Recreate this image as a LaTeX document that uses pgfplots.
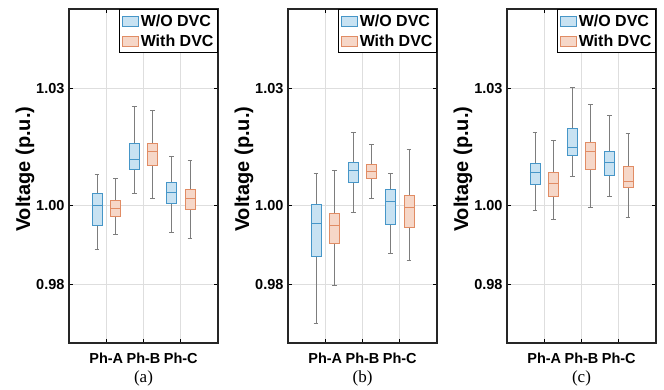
\documentclass[border=0pt]{standalone}
\usepackage{fontspec}
\setmainfont{Liberation Sans}
\newfontfamily\serif{Liberation Serif}
\usepackage{pgfplots}
\pgfplotsset{compat=1.18}
\definecolor{bedge}{RGB}{70,150,200}
\definecolor{bfill}{RGB}{200,226,242}
\definecolor{oedge}{RGB}{225,140,100}
\definecolor{ofill}{RGB}{246,215,200}
\definecolor{wgray}{RGB}{125,125,125}
\definecolor{gridc}{RGB}{222,222,222}
\pgfplotsset{legend image code/.code={\draw[#1] (0pt,-5pt) rectangle (16pt,5pt);}}
\pgfplotsset{
  myax/.style={
    scale only axis, width=149pt, height=334pt,
    xmin=0, xmax=4, ymin=0.965, ymax=1.0502,
    xtick={1,2,3}, xticklabels={Ph-A,Ph-B,Ph-C},
    ytick={0.98,1.00,1.03},
    xtick pos=both, ytick pos=both, tick align=inside,
    major tick length=4pt,
    tick style={black, line width=0.9pt},
    axis line style={black!85, line width=1.3pt},
    grid=major, major grid style={draw=gridc, line width=0.8pt},
    /pgf/number format/assume math mode=true,
    y tick label style={/pgf/number format/fixed, /pgf/number format/fixed zerofill, /pgf/number format/precision=2},
    tick label style={font=\fontsize{14.5}{16}\selectfont\bfseries},
    yticklabel style={xshift=-1pt},
    xticklabel style={yshift=-6pt},
    ylabel={Voltage (p.u.)},
    ylabel style={font=\fontsize{20}{24}\selectfont\bfseries, at={(axis description cs:-0.295,0.52)}, anchor=center},
    xlabel style={font=\serif\fontsize{17}{20}\selectfont, at={(axis description cs:0.5,0)}, anchor=center, yshift=-35pt},
    legend style={at={(1,1)}, anchor=north east, draw=black, line width=1pt, fill=white,
      font=\fontsize{16}{19}\selectfont\bfseries, inner xsep=2pt, inner ysep=3pt, row sep=3pt,
      /tikz/every odd column/.style={column sep=0pt}},
    legend cell align=left,
  }
}
\newcommand{\bx}[8]{%
 \pgfmathsetmacro{\bxl}{#1-0.135}\pgfmathsetmacro{\bxr}{#1+0.135}%
 \pgfmathsetmacro{\bcl}{#1-0.065}\pgfmathsetmacro{\bcr}{#1+0.065}%
 \addplot[forget plot, wgray, line width=0.7pt] coordinates {(#1,#2) (#1,#3)};
 \addplot[forget plot, wgray, line width=0.7pt] coordinates {(#1,#5) (#1,#6)};
 \addplot[forget plot, wgray, line width=0.7pt] coordinates {(\bcl,#2) (\bcr,#2)};
 \addplot[forget plot, wgray, line width=0.7pt] coordinates {(\bcl,#6) (\bcr,#6)};
 \addplot[forget plot, draw=#7, fill=#8, line width=0.8pt] coordinates {(\bxl,#3) (\bxr,#3) (\bxr,#5) (\bxl,#5)} -- cycle;
 \addplot[forget plot, draw=#7, line width=0.8pt] coordinates {(\bxl,#4) (\bxr,#4)};
}
\newcommand{\leg}{%
  \addlegendimage{draw=bedge, fill=bfill, line width=0.8pt}\addlegendentry{W/O DVC}
  \addlegendimage{draw=oedge, fill=ofill, line width=0.8pt}\addlegendentry{With DVC}}
\begin{document}
\begin{tikzpicture}
\path[use as bounding box] (0,0) rectangle (664pt,390pt);
% (a)
\begin{axis}[myax, at={(69pt,47pt)}, anchor=south west, xlabel={(a)}]
\bx{0.75}{0.9888}{0.9951}{1.0000}{1.0031}{1.0079}{bedge}{bfill}
\bx{1.25}{0.9926}{0.9974}{0.9993}{1.0013}{1.0069}{oedge}{ofill}
\bx{1.75}{1.0031}{1.0094}{1.0118}{1.0158}{1.0253}{bedge}{bfill}
\bx{2.25}{1.0020}{1.0104}{1.0138}{1.0158}{1.0243}{oedge}{ofill}
\bx{2.75}{0.9932}{1.0006}{1.0033}{1.0059}{1.0127}{bedge}{bfill}
\bx{3.25}{0.9917}{0.9992}{1.0020}{1.0042}{1.0117}{oedge}{ofill}
\leg
\end{axis}
% (b)
\begin{axis}[myax, at={(288pt,47pt)}, anchor=south west, xlabel={(b)}]
\bx{0.75}{0.9699}{0.9871}{0.9955}{1.0003}{1.0084}{bedge}{bfill}
\bx{1.25}{0.9797}{0.9904}{0.9949}{0.9980}{1.0090}{oedge}{ofill}
\bx{1.75}{0.9984}{1.0059}{1.0090}{1.0111}{1.0187}{bedge}{bfill}
\bx{2.25}{1.0020}{1.0071}{1.0089}{1.0106}{1.0157}{oedge}{ofill}
\bx{2.75}{0.9878}{0.9952}{1.0011}{1.0041}{1.0084}{bedge}{bfill}
\bx{3.25}{0.9860}{0.9945}{0.9996}{1.0026}{1.0145}{oedge}{ofill}
\leg
\end{axis}
% (c)
\begin{axis}[myax, at={(507pt,47pt)}, anchor=south west, xlabel={(c)}]
\bx{0.75}{0.9988}{1.0054}{1.0085}{1.0107}{1.0187}{bedge}{bfill}
\bx{1.25}{0.9965}{1.0025}{1.0057}{1.0085}{1.0168}{oedge}{ofill}
\bx{1.75}{1.0074}{1.0128}{1.0150}{1.0198}{1.0302}{bedge}{bfill}
\bx{2.25}{0.9997}{1.0092}{1.0138}{1.0161}{1.0259}{oedge}{ofill}
\bx{2.75}{1.0024}{1.0077}{1.0111}{1.0138}{1.0230}{bedge}{bfill}
\bx{3.25}{0.9970}{1.0046}{1.0063}{1.0101}{1.0184}{oedge}{ofill}
\leg
\end{axis}
\end{tikzpicture}
\end{document}
